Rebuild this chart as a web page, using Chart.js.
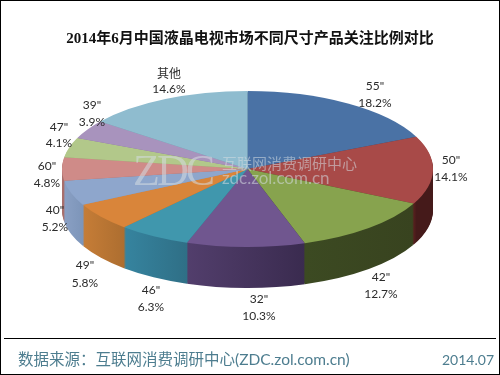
<!DOCTYPE html>
<html>
<head>
<meta charset="utf-8">
<script src="https://cdn.jsdelivr.net/npm/chart.js@4"></script>
<style>
  html, body { margin: 0; padding: 0; background: #fff; }
  #wrap { position: relative; width: 500px; height: 375px; }
  #wrap:after { content: ""; position: absolute; inset: 0; border: 1px solid #000; pointer-events: none; }
  canvas { display: block; }
</style>
</head>
<body>
<div id="wrap"><canvas id="pastel" width="500" height="375"></canvas></div>
<script>
const tamanos = ['55"', '50"', '42"', '32"', '46"', '49"', '40"', '60"', '47"', '39"', '其他'];
const valores = [18.2, 14.1, 12.7, 10.3, 6.3, 5.8, 5.2, 4.8, 4.1, 3.9, 14.6];

const colores = ['#4a72a5', '#a84a48', '#87a34e', '#70568f', '#4097ad', '#d9853a', '#8ea6cc', '#cf8b88', '#b2c88a', '#a893bd', '#8fbccf'];
// lado izquierdo y derecho de la pared de cada sector
const ladoIzq = ['#2f4a6e', '#571f1e', '#3c4a22', '#523e6c', '#36849f', '#c67d37', '#8aa0c4', '#a86f6c', '#8ea36c', '#86739a', '#6f98a8'];
const ladoDer = ['#2f4a6e', '#451a1a', '#38431f', '#3a2b4f', '#2f6f86', '#ad6e30', '#7d95b9', '#a86f6c', '#8ea36c', '#86739a', '#6f98a8'];

// centro x, y de la primera linea, y de la segunda
const posEtiquetas = [[375, 86, 103], [451, 160, 177], [381, 277, 294], [259, 299, 316], [151, 290, 307],
  [85, 265, 283], [55, 210, 227], [47, 166, 183], [59, 127, 143], [92, 105, 122], [169, 74, 89]];

const CX = 247.5, CY = 169, RX = 185.5, RY = 78, ALTO = 41;
const fuente = '"Lato", "Noto Sans CJK SC", sans-serif';

function elipse(ctx, meta, dy) {
  const a = meta.data[0];
  ctx.translate(CX, CY + dy);
  ctx.scale(1, RY / RX);
  ctx.translate(-a.x, -a.y);
}

const pastel3d = {
  id: 'pastel3d',
  beforeDatasetsDraw(chart) {
    const ctx = chart.ctx;
    const meta = chart.getDatasetMeta(0);
    // pared lateral: los mismos sectores repetidos hacia abajo
    for (let dy = ALTO; dy >= 1; dy--) {
      ctx.save();
      elipse(ctx, meta, dy);
      meta.data.forEach((arc, i) => {
        const x1 = arc.x + RX * Math.cos(arc.startAngle);
        const x2 = arc.x + RX * Math.cos(arc.endAngle);
        const g = ctx.createLinearGradient(Math.min(x1, x2), 0, Math.max(x1, x2) + 0.1, 0);
        g.addColorStop(0, ladoIzq[i]);
        g.addColorStop(1, ladoDer[i]);
        const copia = Object.create(arc);
        copia.options = Object.assign({}, arc.options, { backgroundColor: g });
        arc.draw.call(copia, ctx);
      });
      ctx.restore();
    }
    ctx.save();
    elipse(ctx, meta, 0);
  },
  afterDatasetsDraw(chart) {
    const ctx = chart.ctx;
    ctx.restore();

    // marca de agua
    ctx.save();
    ctx.fillStyle = 'rgba(214,220,226,0.55)';
    ctx.textBaseline = 'alphabetic';
    ctx.font = '44px "Liberation Serif", serif';
    ctx.letterSpacing = '-3px';
    ctx.fillText('ZDC', 133, 185);
    ctx.letterSpacing = '0px';
    ctx.font = '15px "Noto Sans CJK SC", sans-serif';
    ctx.fillText('互联网消费调研中心', 222, 169);
    ctx.font = '17px "Lato", sans-serif';
    ctx.fillText('zdc.zol.com.cn', 222, 184);
    ctx.restore();

    // etiquetas
    ctx.save();
    ctx.fillStyle = '#2b2b2b';
    ctx.textAlign = 'center';
    ctx.textBaseline = 'middle';
    ctx.font = '12px ' + fuente;
    tamanos.forEach((t, i) => {
      const p = posEtiquetas[i];
      ctx.fillText(t, p[0], p[1]);
      ctx.fillText(valores[i].toFixed(1) + '%', p[0], p[2]);
    });
    ctx.restore();

    // pie
    ctx.save();
    ctx.strokeStyle = '#000';
    ctx.lineWidth = 1;
    ctx.beginPath();
    ctx.moveTo(4, 338.5);
    ctx.lineTo(496, 338.5);
    ctx.stroke();
    ctx.fillStyle = '#4d7d8f';
    ctx.textBaseline = 'middle';
    ctx.font = '15.5px ' + fuente;
    ctx.fillText('数据来源：互联网消费调研中心(ZDC.zol.com.cn)', 18, 360);
    ctx.textAlign = 'right';
    ctx.font = '14px ' + fuente;
    ctx.fillText('2014.07', 494, 360);
    ctx.restore();
  }
};

new Chart(document.getElementById('pastel'), {
  type: 'pie',
  data: {
    labels: tamanos,
    datasets: [{ data: valores, backgroundColor: colores, borderWidth: 0, clip: false }]
  },
  options: {
    responsive: false,
    animation: false,
    radius: RX,
    plugins: {
      legend: { display: false },
      tooltip: { enabled: false },
      title: {
        display: true,
        text: '2014年6月中国液晶电视市场不同尺寸产品关注比例对比',
        color: '#111',
        font: { family: '"Liberation Serif", "Noto Sans CJK SC", serif', size: 15, weight: 'bold' },
        padding: { top: 30, bottom: 0 }
      }
    }
  },
  plugins: [pastel3d]
});
</script>
</body>
</html>
